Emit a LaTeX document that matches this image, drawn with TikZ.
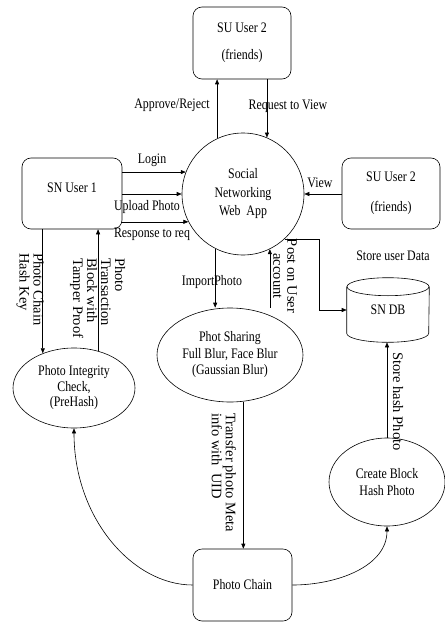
\documentclass[tikz,border=0pt]{standalone}
\usepackage{fontspec}
\setmainfont{Liberation Serif}[FakeStretch=0.82]
\newfontfamily\rotfont{Liberation Serif}
\usetikzlibrary{shapes.geometric, arrows.meta}

\begin{document}
\begin{tikzpicture}[x=1pt, y=-1pt, line width=0.6pt,
    >={Triangle[length=5pt,width=4pt]},
    every node/.style={font=\fontsize{14.5}{16}\selectfont, inner sep=0pt},
    userbox/.style={draw, rounded corners=9pt, minimum width=98pt, minimum height=72pt, align=center},
    proc/.style={draw, ellipse, align=center},
    dbbox/.style={minimum width=82pt, minimum height=64pt},
    vlbl/.style={rotate=-90, anchor=west, align=left, font=\rotfont\fontsize{14.5}{14}\selectfont}]

  \useasboundingbox (0,0) rectangle (444,623);

  % Users
  \node[userbox] (su2top) at (242,43) {SU User 2\\[11pt](friends)};
  \node[userbox, minimum width=100pt, minimum height=71pt] (snu1) at (72,193.5) {SN User 1\\[-4pt]\mbox{}};
  \node[userbox, minimum height=71pt] (su2right) at (391,193.5) {SU User 2\\[14pt](friends)};

  % Web app and processes
  \node[draw, circle, minimum size=122pt, align=center, font=\fontsize{14.5}{18.5}\selectfont] (app) at (243,194) {Social\\Networking\\Web~ App};
  \node[proc, minimum width=146pt, minimum height=94pt, font=\fontsize{14.5}{16.5}\selectfont] (share) at (230,355) {Phot Sharing\\Full Blur, Face Blur\\(Gaussian Blur)};
  \node[proc, minimum width=122pt, minimum height=80pt, font=\fontsize{14.5}{15.5}\selectfont] (integ) at (74,388) {Photo Integrity\\Check,\\(PreHash)};
  \node[proc, minimum width=116pt, minimum height=88pt, font=\fontsize{14.5}{17}\selectfont] (block) at (387,482) {Create Block\\Hash Photo};
  \node[userbox, minimum width=99pt] (chain) at (242.5,585) {Photo Chain};

  % Database
  \node[dbbox] (db) at (388,310) {SN DB};
  \draw ([yshift=-9pt]db.north) ellipse [x radius=41pt, y radius=9pt];
  \draw ([yshift=-9pt]db.north west) -- ([yshift=9pt]db.south west)
    arc[start angle=180, end angle=360, x radius=41pt, y radius=9pt]
    -- ([yshift=-9pt]db.north east);

  % App <-> friends
  \draw[->] (app.115) -- (app.115 |- su2top.south);
  \draw[->] (su2top.south -| app.67) -- (app.67);
  \draw[->] (su2right.west |- app.0) -- (app.0);

  % User 1 -> app
  \draw[->] (snu1.east |- app.159) -- (app.159);
  \draw[->] (snu1.east |- app.180) -- (app.180);
  \draw[->] (snu1.east |- app.207) -- (app.207);

  % App <-> sharing, DB
  \draw[->] (app.243) -- (app.243 |- share.north);
  \draw[->] (share.north -| app.296) -- (app.296);
  \draw[->] (app.-47.5) -| ([xshift=-27pt]db.west) -- (db.west);

  % User 1 <-> integrity check
  \draw[->] (snu1.south -| integ.132) -- (integ.132);
  \draw[->] (integ.57) -- (integ.57 |- snu1.south);

  % Chain
  \draw[->] (share.-74) -- (share.-74 |- chain.north);
  \draw[->] (chain.west) .. controls +(-60,0) and +(0,90) .. (integ.south);
  \draw[->] (chain.east) .. controls +(45,0) and +(0,40) .. (block.south);
  \draw[->] (block.north) -- (block.north |- db.south);

  % Labels
  \node (lapprove) at (172,105) {Approve/Reject};
  \node (lrequest) at (288,106) {Request to View};
  \node (llogin) at (152,160) {Login};
  \node (lupload) at (147,207) {Upload Photo};
  \node (lresponse) at (152,234) {Response to req};
  \node (lview) at (320,183) {View};
  \node (lstore) at (393,256) {Store user Data};
  \node (limport) at (212,282) {ImportPhoto};
  \node[vlbl] (lhashkey) at (30,253) {Photo Chain\\Hash Key};
  \node[vlbl] (ltamper) at (97.5,258) {Photo\\Transaction\\Block with\\Tamper Proof};
  \node[vlbl, anchor=center, align=center] (lpost) at (285,276) {Post on User\\account};
  \node[vlbl] (ltransfer) at (224,413) {Transfer photo Meta\\info with~ UID};
  \node[vlbl] (lstorehash) at (398,352) {Store hash Photo};

\end{tikzpicture}
\end{document}
